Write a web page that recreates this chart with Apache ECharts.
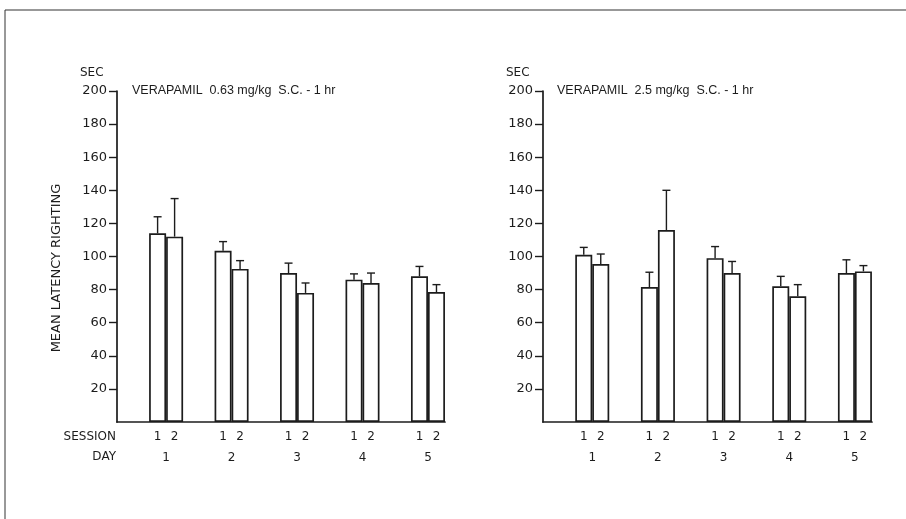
<!DOCTYPE html>
<html>
<head>
<meta charset="utf-8">
<script src="https://cdn.jsdelivr.net/npm/echarts@6/dist/echarts.min.js"></script>
<style>
  html, body { margin: 0; padding: 0; background: #fff; }
  #chart { width: 906px; height: 519px; }
</style>
</head>
<body>
<div id="chart"></div>
<script>
// Days and sessions on the x axis
const days = ['1', '2', '3', '4', '5'];
const sessions = ['1', '2'];
const yTicks = [20, 40, 60, 80, 100, 120, 140, 160, 180, 200];

// Panel titles
const titleLow = 'VERAPAMIL  0.63 mg/kg  S.C. - 1 hr';
const titleHigh = 'VERAPAMIL  2.5 mg/kg  S.C. - 1 hr';

// Mean latency of righting (sec) and its error, 0.63 mg/kg
const lowSession1 = [114, 103.5, 90, 86, 88];
const lowSession1Err = [10, 5.5, 6, 3.5, 6];
const lowSession2 = [112, 92.5, 78, 84, 78.5];
const lowSession2Err = [23, 5, 6, 6, 4.5];

// Mean latency of righting (sec) and its error, 2.5 mg/kg
const highSession1 = [101, 81.5, 99, 82, 90];
const highSession1Err = [4.5, 9, 7, 6, 8];
const highSession2 = [95.5, 116, 90, 76, 91];
const highSession2Err = [6, 24, 7, 7, 3.5];

const INK = '#1c1c1c';
const FONT = "'DejaVu Sans', sans-serif";
const BAR_W = 17;

const chart = echarts.init(document.getElementById('chart'), null, { renderer: 'canvas' });

function pairs(vals) { return vals.map((v, i) => [i, v]); }
function triples(vals, errs) { return vals.map((v, i) => [i, v, errs[i]]); }

function barSeries(axis, vals, sIdx) {
  return {
    type: 'bar',
    xAxisIndex: axis, yAxisIndex: axis,
    data: pairs(vals),
    barWidth: BAR_W,
    barGap: '0%',
    itemStyle: { color: '#fff', borderColor: INK, borderWidth: 1.7 },
    label: {
      show: true, position: 'bottom', distance: 9,
      formatter: () => sessions[sIdx],
      color: INK, fontFamily: FONT, fontSize: 12
    },
    silent: true,
    z: 2
  };
}

function errSeries(axis, vals, errs, sIdx) {
  return {
    type: 'custom',
    xAxisIndex: axis, yAxisIndex: axis,
    data: triples(vals, errs),
    renderItem(params, api) {
      const x = api.value(0), m = api.value(1), e = api.value(2);
      const p0 = api.coord([x, m]);
      const p1 = api.coord([x, m + e]);
      const cx = p0[0] + (sIdx === 0 ? -BAR_W / 2 : BAR_W / 2);
      const st = { stroke: INK, lineWidth: 1.4 };
      return {
        type: 'group',
        children: [
          { type: 'line', shape: { x1: cx, y1: p0[1], x2: cx, y2: p1[1] }, style: st },
          { type: 'line', shape: { x1: cx - 4, y1: p1[1], x2: cx + 4, y2: p1[1] }, style: st }
        ]
      };
    },
    silent: true,
    z: 3
  };
}

function daySeries(axis) {
  return {
    type: 'scatter',
    xAxisIndex: axis, yAxisIndex: axis,
    data: days.map((d, i) => [i, 0]),
    symbolSize: 0,
    itemStyle: { opacity: 1 },
    label: {
      show: true, position: 'bottom', distance: 30, opacity: 1,
      formatter: p => days[p.dataIndex],
      color: INK, fontFamily: FONT, fontSize: 12
    },
    silent: true
  };
}

function xAxis(grid) {
  return {
    type: 'value', gridIndex: grid, min: -0.75, max: 4.26,
    axisLine: { show: true, onZero: false, lineStyle: { color: INK, width: 1.7 } },
    axisTick: { show: false }, axisLabel: { show: false }, splitLine: { show: false }
  };
}

function yAxis(grid) {
  return {
    type: 'value', gridIndex: grid, min: 0, max: 200, interval: 20,
    axisLine: { show: true, onZero: false, lineStyle: { color: INK, width: 1.7 } },
    axisTick: { show: true, length: 8, customValues: yTicks, lineStyle: { color: INK, width: 1.4 } },
    axisLabel: { show: true, margin: 10, customValues: yTicks, color: INK, fontFamily: FONT, fontSize: 13 },
    splitLine: { show: false }
  };
}

function text(x, y, str, extra) {
  return {
    type: 'text', x, y,
    style: Object.assign({ text: str, fill: INK, font: "13px 'DejaVu Sans', sans-serif", textVerticalAlign: 'middle' }, extra || {})
  };
}

chart.setOption({
  animation: false,
  backgroundColor: '#fff',
  grid: [
    { left: 117, top: 91, width: 328, height: 331 },
    { left: 543, top: 91, width: 329, height: 331 }
  ],
  xAxis: [xAxis(0), xAxis(1)],
  yAxis: [yAxis(0), yAxis(1)],
  series: [
    barSeries(0, lowSession1, 0), barSeries(0, lowSession2, 1),
    errSeries(0, lowSession1, lowSession1Err, 0), errSeries(0, lowSession2, lowSession2Err, 1),
    daySeries(0),
    barSeries(1, highSession1, 0), barSeries(1, highSession2, 1),
    errSeries(1, highSession1, highSession1Err, 0), errSeries(1, highSession2, highSession2Err, 1),
    daySeries(1)
  ],
  graphic: [
    // frame
    { type: 'line', shape: { x1: 5, y1: 10, x2: 906, y2: 10 }, style: { stroke: '#333', lineWidth: 1.2 } },
    { type: 'line', shape: { x1: 5, y1: 10, x2: 5, y2: 519 }, style: { stroke: '#333', lineWidth: 1 } },
    // unit labels above the value axes
    text(80, 73, 'SEC', { font: "12px 'DejaVu Sans', sans-serif" }),
    text(506, 73, 'SEC', { font: "12px 'DejaVu Sans', sans-serif" }),
    // panel titles
    text(132, 91, titleLow, { font: "12.5px 'Liberation Sans', Arial, sans-serif" }),
    text(557, 91, titleHigh, { font: "12.5px 'Liberation Sans', Arial, sans-serif" }),
    // row labels
    text(116, 437, 'SESSION', { textAlign: 'right', font: "12px 'DejaVu Sans', sans-serif" }),
    text(116, 457, 'DAY', { textAlign: 'right', font: "12px 'DejaVu Sans', sans-serif" }),
    // y axis title
    {
      type: 'text', x: 57, y: 268, rotation: Math.PI / 2,
      style: { text: 'MEAN LATENCY RIGHTING', fill: INK, font: "13px 'DejaVu Sans', sans-serif", textAlign: 'center', textVerticalAlign: 'middle' }
    }
  ]
});
</script>
</body>
</html>
